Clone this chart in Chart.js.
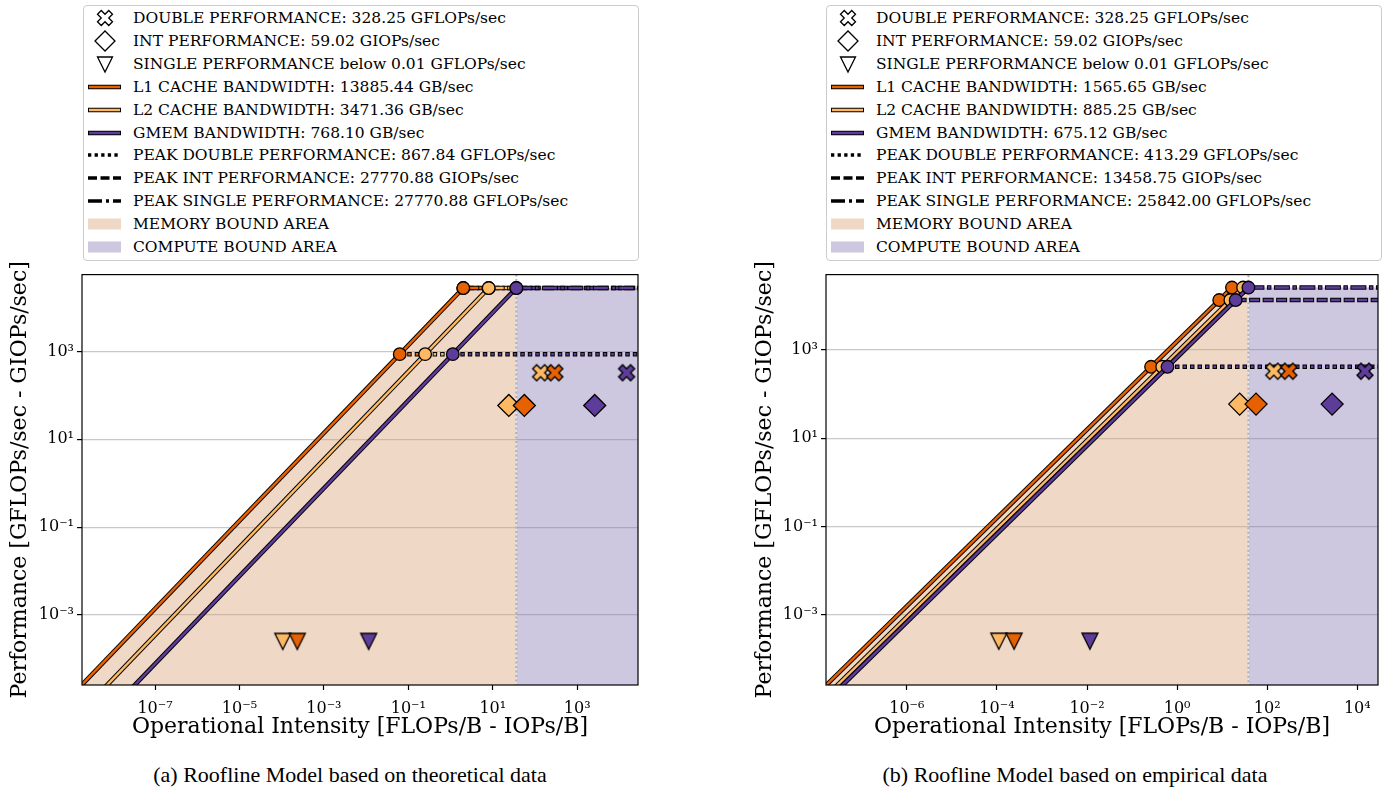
<!DOCTYPE html>
<html>
<head>
<meta charset="utf-8">
<script src="https://cdn.jsdelivr.net/npm/chart.js@4.4.0/dist/chart.umd.min.js"></script>
<style>
body { margin:0; width:1391px; height:788px; background:#fff; position:relative; overflow:hidden; font-family:'DejaVu Serif', serif; }
.legend { position:absolute; top:5px; width:556px; height:256px; border:1px solid #cccccc; border-radius:4px; box-sizing:border-box; background:#fff; }
.row { position:absolute; left:0; height:22px; width:550px; font-size:15.5px; line-height:22px; white-space:nowrap; color:#000; }
.row svg { position:absolute; left:1px; top:0px; }
.row span { position:absolute; left:49px; top:0; }
.plot { position:absolute; top:262px; }
.caption { position:absolute; top:762px; width:720px; height:26px; line-height:26px; font-family:'Liberation Serif', serif; font-size:22px; text-align:center; white-space:nowrap; }
</style>
</head>
<body>
<div class="legend" id="legA" style="left:83px"></div>
<div class="legend" id="legB" style="left:826px"></div>
<div class="plot" style="left:0px"><canvas id="chartA" width="660" height="500"></canvas></div>
<div class="plot" style="left:740px"><canvas id="chartB" width="660" height="500"></canvas></div>
<div class="caption" style="left:-10px">(a) Roofline Model based on theoretical data</div>
<div class="caption" style="left:715px">(b) Roofline Model based on empirical data</div>
<script>
// memory levels, same for both charts
var levels = ['L1 CACHE', 'L2 CACHE', 'GMEM'];
var levelColors = ['#e66101', '#fdb863', '#5e3c99'];
var peakNames = ['DOUBLE', 'INT', 'SINGLE'];
var peakUnits = ['GFLOPs/sec', 'GIOPs/sec', 'GFLOPs/sec'];

// (a) theoretical
var theoBandwidth = [13885.44, 3471.36, 768.10];
var theoPeak = [867.84, 27770.88, 27770.88]; // double, int, single
// (b) empirical
var empBandwidth = [1565.65, 885.25, 675.12];
var empPeak = [413.29, 13458.75, 25842.00];

// achieved performance
var doublePerf = 328.25;
var intPerf = 59.02;
var singlePerf = 0.00025; // drawn value, "below 0.01"

// operational intensity of the achieved points per level (L1, L2, GMEM)
var theoDoubleAI = [294, 136, 14800];
var theoIntAI = [56, 24, 2600];
var theoSingleAI = [0.000234, 0.000106, 0.0115];
var empDoubleAI = [302, 140, 14800];
var empIntAI = [56.5, 24.5, 2760];
var empSingleAI = [0.00024, 0.00011, 0.0116];

// axes
var xLimTheo = [1.862e-9, 27540];
var yLimTheo = [2.54e-5, 56230];
var xLimEmp = [1.603e-8, 28840];
var yLimEmp = [2.547e-5, 50815];
var xTicksTheo = [1e-7, 1e-5, 1e-3, 1e-1, 1e1, 1e3];
var xLabelsTheo = ['10\u207B\u2077', '10\u207B\u2075', '10\u207B\u00B3', '10\u207B\u00B9', '10\u00B9', '10\u00B3'];
var xTicksEmp = [1e-6, 1e-4, 1e-2, 1e0, 1e2, 1e4];
var xLabelsEmp = ['10\u207B\u2076', '10\u207B\u2074', '10\u207B\u00B2', '10\u2070', '10\u00B2', '10\u2074'];
var yTicks = [1e-3, 1e-1, 1e1, 1e3];
var yLabels = ['10\u207B\u00B3', '10\u207B\u00B9', '10\u00B9', '10\u00B3'];

var memFill = 'rgba(215,158,113,0.4)';
var compFill = 'rgba(130,118,178,0.4)';

var dashes = {
    solid: { o: [], c: [] },
    dotted: { o: [4.5, 3], c: [2.5, 5] },
    dashed: { o: [11, 2.5], c: [9, 4.5] },
    dashdot: { o: [16, 2.5, 4.5, 2.5], c: [14, 4.5, 2.5, 4.5] }
};
var peakStyles = ['dotted', 'dashed', 'dashdot'];

function xMarker(color, size) {
    var c = document.createElement('canvas');
    c.width = c.height = size + 6;
    var g = c.getContext('2d');
    g.translate(c.width / 2, c.height / 2);
    g.rotate(Math.PI / 4);
    var L = size / 2 / 0.943, w = L / 3;
    g.beginPath();
    g.moveTo(-w, -L); g.lineTo(w, -L); g.lineTo(w, -w); g.lineTo(L, -w); g.lineTo(L, w); g.lineTo(w, w);
    g.lineTo(w, L); g.lineTo(-w, L); g.lineTo(-w, w); g.lineTo(-L, w); g.lineTo(-L, -w); g.lineTo(-w, -w);
    g.closePath();
    g.fillStyle = color; g.fill();
    g.lineWidth = 1.4; g.strokeStyle = '#000'; g.stroke();
    return c;
}

function triMarker(color, size) {
    var c = document.createElement('canvas');
    c.width = c.height = size + 6;
    var g = c.getContext('2d');
    var m = c.width / 2, h = size / 2;
    g.beginPath();
    g.moveTo(m - h, m - h); g.lineTo(m + h, m - h); g.lineTo(m, m + h); g.closePath();
    g.fillStyle = color; g.fill();
    g.lineWidth = 1.3; g.strokeStyle = '#000'; g.stroke();
    return c;
}

function addLine(list, pts, color, kind) {
    var p = dashes[kind];
    list.push({ data: pts, showLine: true, borderColor: '#000', borderWidth: 4.5, borderDash: p.o,
        pointRadius: 0, fill: false, clip: 0 });
    list.push({ data: pts, showLine: true, borderColor: color, borderWidth: 2.5, borderDash: p.c,
        borderDashOffset: p.c.length ? -1 : 0, pointRadius: 0, fill: false, clip: 0 });
}

var framePlugin = {
    id: 'frame',
    afterDraw: function(chart) {
        var a = chart.chartArea, ctx = chart.ctx;
        ctx.save();
        ctx.strokeStyle = '#000';
        ctx.lineWidth = 1.2;
        ctx.strokeRect(a.left, a.top, a.right - a.left, a.bottom - a.top);
        ctx.restore();
    }
};

function buildChart(id, bw, peak, dAI, iAI, sAI, xLim, yLim, xTicks, xLabels, yTitlePad) {
    var maxPeak = Math.max.apply(null, peak);
    var boundary = maxPeak / bw[bw.length - 1];
    var ds = [];

    ds.push({ data: [{ x: 1e-10, y: bw[0] * 1e-10 }, { x: maxPeak / bw[0], y: maxPeak }, { x: boundary, y: maxPeak }],
        showLine: true, fill: 'start', backgroundColor: memFill, borderWidth: 0, pointRadius: 0, clip: 0 });
    ds.push({ data: [{ x: boundary, y: maxPeak }, { x: 1e6, y: maxPeak }],
        showLine: true, fill: 'start', backgroundColor: compFill, borderWidth: 0, pointRadius: 0, clip: 0 });
    ds.push({ data: [{ x: boundary, y: 1e-8 }, { x: boundary, y: 1e8 }], showLine: true, borderColor: '#b0b0b0',
        borderWidth: 2, borderDash: [2, 2.5], pointRadius: 0, fill: false, clip: 0 });

    for (var i = 0; i < bw.length; i++) {
        addLine(ds, [{ x: 1e-10, y: bw[i] * 1e-10 }, { x: maxPeak / bw[i], y: maxPeak }], levelColors[i], 'solid');
        var ridges = [];
        for (var j = 0; j < peak.length; j++) {
            // roof segment runs to the next level's ridge, the last one to the right edge
            var xEnd = i < bw.length - 1 ? peak[j] / bw[i + 1] : 1e6;
            addLine(ds, [{ x: peak[j] / bw[i], y: peak[j] }, { x: xEnd, y: peak[j] }], levelColors[i], peakStyles[j]);
            ridges.push({ x: peak[j] / bw[i], y: peak[j] });
        }
        ds.push({ data: ridges, showLine: false, pointRadius: 6.3, pointBackgroundColor: levelColors[i],
            pointBorderColor: '#000', pointBorderWidth: 1.3, clip: 0 });
    }

    var mOrder = [1, 0, 2];
    mOrder.forEach(function(k) {
        ds.push({ data: [{ x: dAI[k], y: doublePerf }], showLine: false, pointRadius: 8,
            pointStyle: xMarker(levelColors[k], 16), clip: 0 });
        ds.push({ data: [{ x: iAI[k], y: intPerf }], showLine: false, pointRadius: 11, pointStyle: 'rectRot',
            pointBackgroundColor: levelColors[k], pointBorderColor: '#000', pointBorderWidth: 1.3, clip: 0 });
        ds.push({ data: [{ x: sAI[k], y: singlePerf }], showLine: false, pointRadius: 8,
            pointStyle: triMarker(levelColors[k], 16), clip: 0 });
    });

    ds.forEach(function(d, n) { d.order = ds.length - n; });

    return new Chart(document.getElementById(id), {
        type: 'scatter',
        data: { datasets: ds },
        options: {
            responsive: false,
            animation: false,
            events: [],
            layout: { padding: { top: 9, right: 22, bottom: 0, left: 0 } },
            plugins: { legend: { display: false }, tooltip: { enabled: false } },
            scales: {
                x: {
                    type: 'logarithmic', min: xLim[0], max: xLim[1],
                    afterBuildTicks: function(s) { s.ticks = xTicks.map(function(v) { return { value: v }; }); },
                    afterFit: function(s) { s.height = 77; },
                    border: { display: false },
                    grid: { drawOnChartArea: false, drawTicks: true, tickLength: 5, tickColor: '#000', tickWidth: 1.2 },
                    ticks: { autoSkip: false, maxRotation: 0, padding: 9, color: '#000', font: { size: 16 },
                        callback: function(v, idx) { return xLabels[idx]; } },
                    title: { display: true, text: 'Operational Intensity [FLOPs/B - IOPs/B]', color: '#000',
                        font: { size: 22 }, padding: { top: 0, bottom: 21.5 } }
                },
                y: {
                    type: 'logarithmic', min: yLim[0], max: yLim[1],
                    afterBuildTicks: function(s) { s.ticks = yTicks.map(function(v) { return { value: v }; }); },
                    afterFit: function(s) { s.width = yTitlePad.width; },
                    border: { display: false },
                    grid: { color: '#c8c8c8', lineWidth: 1.2, tickLength: 5, tickColor: '#000', tickWidth: 1.2 },
                    ticks: { autoSkip: false, padding: 3, color: '#000', font: { size: 16 },
                        callback: function(v, idx) { return yLabels[idx]; } },
                    title: { display: true, text: 'Performance [GFLOPs/sec - GIOPs/sec]', color: '#000',
                        font: { size: 22 }, padding: { top: yTitlePad.pad, bottom: 0 } }
                }
            }
        },
        plugins: [framePlugin]
    });
}

function xPath(cx, cy, size) {
    var L = size / 2 / 0.943, w = L / 3, a = Math.PI / 4;
    var pts = [[-w, -L], [w, -L], [w, -w], [L, -w], [L, w], [w, w], [w, L], [-w, L], [-w, w], [-L, w], [-L, -w], [-w, -w]];
    return 'M' + pts.map(function(p) {
        var x = p[0] * Math.cos(a) - p[1] * Math.sin(a), y = p[0] * Math.sin(a) + p[1] * Math.cos(a);
        return (cx + x).toFixed(2) + ',' + (cy + y).toFixed(2);
    }).join(' L') + ' Z';
}

function icon(it) {
    var s = '<svg width="40" height="22" viewBox="0 0 40 22">';
    if (it.icon == 'X') s += '<path d="' + xPath(20, 11, 15) + '" fill="#fff" stroke="#000" stroke-width="1.3"/>';
    if (it.icon == 'D') s += '<path d="M10,11 L20,1 L30,11 L20,21 Z" fill="#fff" stroke="#000" stroke-width="1.3"/>';
    if (it.icon == 'v') s += '<path d="M12.5,4 L27.5,4 L20,19 Z" fill="#fff" stroke="#000" stroke-width="1.3"/>';
    if (it.icon == 'line') {
        s += '<line x1="3" y1="11" x2="36" y2="11" stroke="#000" stroke-width="4.5"/>';
        s += '<line x1="4" y1="11" x2="35" y2="11" stroke="' + it.color + '" stroke-width="2.5"/>';
    }
    if (it.icon == 'dotted') s += '<line x1="3" y1="11" x2="36" y2="11" stroke="#000" stroke-width="3.5" stroke-dasharray="3.3 3.3"/>';
    if (it.icon == 'dashed') s += '<line x1="3" y1="11" x2="36" y2="11" stroke="#000" stroke-width="3.5" stroke-dasharray="9 3.5"/>';
    if (it.icon == 'dashdot') s += '<line x1="3" y1="11" x2="36" y2="11" stroke="#000" stroke-width="3.5" stroke-dasharray="14 4 3 4"/>';
    if (it.icon == 'patch') s += '<rect x="3" y="5.5" width="33" height="11" fill="' + it.color + '"/>';
    return s + '</svg>';
}

function buildLegend(id, bw, peak) {
    var items = [
        { icon: 'X', text: 'DOUBLE PERFORMANCE: ' + doublePerf.toFixed(2) + ' GFLOPs/sec' },
        { icon: 'D', text: 'INT PERFORMANCE: ' + intPerf.toFixed(2) + ' GIOPs/sec' },
        { icon: 'v', text: 'SINGLE PERFORMANCE below 0.01 GFLOPs/sec' }
    ];
    for (var i = 0; i < levels.length; i++)
        items.push({ icon: 'line', color: levelColors[i], text: levels[i] + ' BANDWIDTH: ' + bw[i].toFixed(2) + ' GB/sec' });
    for (var j = 0; j < peak.length; j++)
        items.push({ icon: peakStyles[j], text: 'PEAK ' + peakNames[j] + ' PERFORMANCE: ' + peak[j].toFixed(2) + ' ' + peakUnits[j] });
    items.push({ icon: 'patch', color: memFill, text: 'MEMORY BOUND AREA' });
    items.push({ icon: 'patch', color: compFill, text: 'COMPUTE BOUND AREA' });

    var html = '';
    items.forEach(function(it, n) {
        html += '<div class="row" style="top:' + (1 + 22.9 * n).toFixed(1) + 'px">' + icon(it) + '<span>' + it.text + '</span></div>';
    });
    document.getElementById(id).innerHTML = html;
}

Chart.defaults.font.family = "'DejaVu Serif', serif";
buildLegend('legA', theoBandwidth, theoPeak);
buildLegend('legB', empBandwidth, empPeak);
buildChart('chartA', theoBandwidth, theoPeak, theoDoubleAI, theoIntAI, theoSingleAI, xLimTheo, yLimTheo, xTicksTheo, xLabelsTheo, { width: 82, pad: 7 });
buildChart('chartB', empBandwidth, empPeak, empDoubleAI, empIntAI, empSingleAI, xLimEmp, yLimEmp, xTicksEmp, xLabelsEmp, { width: 86, pad: 12 });
</script>
</body>
</html>
